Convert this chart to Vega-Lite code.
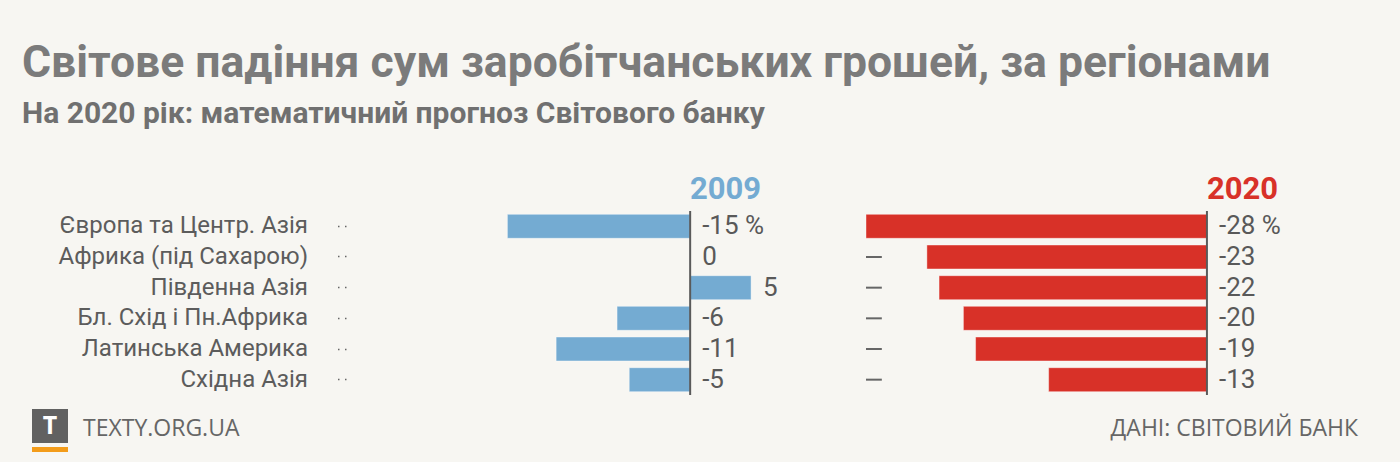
{
  "$schema": "https://vega.github.io/schema/vega-lite/v6.json",
  "background": "#f7f6f2",
  "padding": {"left": 22, "top": 40, "right": 42, "bottom": 10},
  "config": {"view": {"stroke": null}, "font": "Roboto"},
  "title": {
    "text": "Світове падіння сум заробітчанських грошей, за регіонами",
    "subtitle": "На 2020 рік: математичний прогноз Світового банку",
    "anchor": "start",
    "frame": "bounds",
    "dx": -10,
    "font": "Roboto",
    "fontSize": 44.5,
    "fontWeight": "bold",
    "color": "#7b7b7b",
    "subtitleFont": "Roboto",
    "subtitleFontSize": 30,
    "subtitleFontWeight": "bold",
    "subtitleColor": "#707070",
    "subtitlePadding": 13,
    "offset": 44
  },
  "datasets": {
    "rows": [
      {"region": "Європа та Центр. Азія", "v2009": -15, "v2020": -28, "l2009": "-15 %", "l2020": "-28 %"},
      {"region": "Африка (під Сахарою)", "v2009": 0, "v2020": -23, "l2009": "0", "l2020": "-23"},
      {"region": "Південна Азія", "v2009": 5, "v2020": -22, "l2009": "5", "l2020": "-22"},
      {"region": "Бл. Схід і Пн.Африка", "v2009": -6, "v2020": -20, "l2009": "-6", "l2020": "-20"},
      {"region": "Латинська Америка", "v2009": -11, "v2020": -19, "l2009": "-11", "l2020": "-19"},
      {"region": "Східна Азія", "v2009": -5, "v2020": -13, "l2009": "-5", "l2020": "-13"}
    ]
  },
  "vconcat": [
    {
      "hconcat": [
        {
          "width": 276,
          "height": 184,
          "data": {"name": "rows"},
          "mark": {"type": "text", "align": "right", "baseline": "middle", "fontSize": 24, "font": "Roboto", "color": "#5c5c5c"},
          "encoding": {
            "y": {"field": "region", "type": "nominal", "sort": null, "scale": {"paddingInner": 0.22, "paddingOuter": 0.11}, "axis": null},
            "x": {"value": "width"},
            "text": {"field": "region"}
          }
        },
        {
          "hconcat": [
            {
              "width": 463,
              "height": 184,
              "title": {"text": "2009", "anchor": "start", "frame": "group", "dx": 341, "color": "#74abd2", "fontSize": 31, "font": "Roboto", "fontWeight": "bold", "offset": 4},
              "data": {"name": "rows"},
              "layer": [
                {
                  "mark": {"type": "bar", "color": "#74abd2", "stroke": "#ffffff", "strokeWidth": 1, "strokeOpacity": 0.4},
                  "encoding": {
                    "y": {"field": "region", "type": "nominal", "sort": null,
                      "scale": {"paddingInner": 0.22, "paddingOuter": 0.11},
                      "axis": {"title": null, "domain": false, "labels": false, "ticks": true, "tickSize": 12, "tickDash": [1.5, 5.5], "tickColor": "#666666", "tickWidth": 1.5, "offset": 3}},
                    "x": {"field": "v2009", "type": "quantitative", "scale": {"domain": [-28, 10], "nice": false}, "axis": null}
                  }
                },
                {
                  "data": {"values": [{}]},
                  "mark": {"type": "rule", "color": "#5a5a5a", "strokeWidth": 2},
                  "encoding": {"x": {"datum": 0, "type": "quantitative"}}
                },
                {
                  "transform": [{"filter": "datum.v2009 <= 0"}],
                  "mark": {"type": "text", "align": "left", "baseline": "middle", "dx": 12, "fontSize": 26, "font": "Roboto", "color": "#595959"},
                  "encoding": {
                    "y": {"field": "region", "type": "nominal", "sort": null},
                    "x": {"datum": 0, "type": "quantitative"},
                    "text": {"field": "l2009"}
                  }
                },
                {
                  "transform": [{"filter": "datum.v2009 > 0"}],
                  "mark": {"type": "text", "align": "left", "baseline": "middle", "dx": 12, "fontSize": 26, "font": "Roboto", "color": "#595959"},
                  "encoding": {
                    "y": {"field": "region", "type": "nominal", "sort": null},
                    "x": {"field": "v2009", "type": "quantitative"},
                    "text": {"field": "l2009"}
                  }
                }
              ]
            },
            {
              "width": 414,
              "height": 184,
              "title": {"text": "2020", "anchor": "start", "frame": "group", "dx": 341, "color": "#d83128", "fontSize": 31, "font": "Roboto", "fontWeight": "bold", "offset": 4},
              "data": {"name": "rows"},
              "layer": [
                {
                  "mark": {"type": "rule", "color": "#666666", "strokeWidth": 2},
                  "encoding": {
                    "y": {"field": "region", "type": "nominal", "sort": null, "scale": {"paddingInner": 0.22, "paddingOuter": 0.11}, "axis": null},
                    "x": {"datum": -28, "type": "quantitative", "scale": {"domain": [-28, 6], "nice": false}, "axis": null},
                    "x2": {"datum": -26.7}
                  }
                },
                {
                  "mark": {"type": "bar", "color": "#d83128", "stroke": "#ffffff", "strokeWidth": 1, "strokeOpacity": 0.4},
                  "encoding": {
                    "y": {"field": "region", "type": "nominal", "sort": null},
                    "x": {"field": "v2020", "type": "quantitative"}
                  }
                },
                {
                  "data": {"values": [{}]},
                  "mark": {"type": "rule", "color": "#5a5a5a", "strokeWidth": 2},
                  "encoding": {"x": {"datum": 0, "type": "quantitative"}}
                },
                {
                  "mark": {"type": "text", "align": "left", "baseline": "middle", "dx": 12, "fontSize": 26, "font": "Roboto", "color": "#595959"},
                  "encoding": {
                    "y": {"field": "region", "type": "nominal", "sort": null},
                    "x": {"datum": 0, "type": "quantitative"},
                    "text": {"field": "l2020"}
                  }
                }
              ]
            }
          ],
          "spacing": 53
        }
      ],
      "spacing": 25
    },
    {
      "hconcat": [
        {
          "vconcat": [
            {
              "width": 36, "height": 34,
              "view": {"fill": "#616161", "stroke": null},
              "data": {"values": [{"t": "T"}]},
              "mark": {"type": "text", "color": "#ffffff", "fontSize": 25, "fontWeight": "bold", "font": "Open Sans", "baseline": "middle"},
              "encoding": {"text": {"field": "t"}}
            },
            {
              "width": 36, "height": 5,
              "view": {"fill": "#f39c1a", "stroke": null},
              "data": {"values": [{"t": ""}]},
              "mark": {"type": "text"},
              "encoding": {"text": {"field": "t"}}
            }
          ],
          "spacing": 0
        },
        {
          "width": 1275, "height": 39,
          "data": {"values": [{"a": "TEXTY.ORG.UA", "b": "ДАНІ: СВІТОВИЙ БАНК"}]},
          "layer": [
            {
              "mark": {"type": "text", "align": "left", "baseline": "middle", "fontSize": 23, "font": "Open Sans", "color": "#666666"},
              "encoding": {"x": {"value": 0}, "text": {"field": "a"}}
            },
            {
              "mark": {"type": "text", "align": "right", "baseline": "middle", "fontSize": 23, "font": "Open Sans", "color": "#666666"},
              "encoding": {"x": {"value": "width"}, "text": {"field": "b"}}
            }
          ]
        }
      ],
      "spacing": 15
    }
  ],
  "spacing": 13
}
